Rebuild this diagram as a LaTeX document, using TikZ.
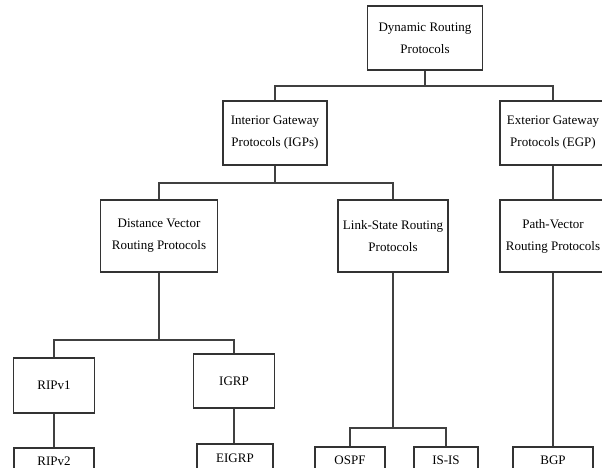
\documentclass[tikz,border=0pt]{standalone}
\usepackage{fontspec}
\setmainfont{Liberation Serif}
\usepackage{tikz}
\usetikzlibrary{positioning}
\tikzset{
  caja/.style={draw=black!80,line width=1.4pt,fill=white,align=center,inner sep=1pt,
    font=\fontsize{13}{22}\selectfont},
  rama/.style={draw=black!75,line width=1.3pt}
}

\begin{document}
\begin{tikzpicture}[x=1pt,y=-1pt]
\useasboundingbox (0,0) rectangle (602,468);
\clip (0,0) rectangle (602,468);
% nivel 1 y 2
\node[caja,minimum width=115pt,minimum height=64pt] (dyn) at (425,38) {Dynamic Routing\\Protocols};
\node[caja,minimum width=104pt,minimum height=64pt] (igp) at (275,133) {Interior Gateway\\Protocols (IGPs)};
\node[caja,minimum width=106pt,minimum height=64pt] (egp) at (553,133) {Exterior Gateway\\Protocols (EGP)};
% nivel 3
\node[caja,minimum width=117pt,minimum height=72pt] (dv) at (159,236) {Distance Vector\\Routing Protocols};
\node[caja,minimum width=110pt,minimum height=72pt] (ls) at (393,236) {Link-State Routing\\Protocols};
\node[caja,minimum width=106pt,minimum height=72pt] (pv) at (553,236) {Path-Vector\\Routing Protocols};
% hojas
\node[caja,minimum width=81pt,minimum height=55pt] (rip1) at (54,385.5) {RIPv1};
\node[caja,minimum width=81pt,minimum height=54pt] (igrp) at (234,381) {IGRP};
\node[caja,minimum width=80pt,minimum height=26pt] (rip2) at (54,461) {RIPv2};
\node[caja,minimum width=76pt,minimum height=28pt] (eigrp) at (235,458) {EIGRP};
\node[caja,minimum width=70pt,minimum height=26pt] (ospf) at (350,460) {OSPF};
\node[caja,minimum width=64pt,minimum height=26pt] (isis) at (446,460) {IS-IS};
\node[caja,minimum width=80pt,minimum height=26pt] (bgp) at (553,460) {BGP};
% uniones
\coordinate (j1) at (425,86);
\coordinate (j2) at (275,183);
\coordinate (j3) at (159,340);
\coordinate (j4) at (393,428);
\draw[rama] (dyn) -- (j1) -| (igp); \draw[rama] (j1) -| (egp);
\draw[rama] (igp) -- (j2) -| (dv); \draw[rama] (j2) -| (ls);
\draw[rama] (egp) -- (pv);
\draw[rama] (dv) -- (j3) -| (rip1); \draw[rama] (j3) -| (igrp);
\draw[rama] (rip1) -- (rip2); \draw[rama] (igrp) -- (igrp|-eigrp.north);
\draw[rama] (ls) -- (j4) -| (ospf); \draw[rama] (j4) -| (isis);
\draw[rama] (pv) -- (bgp);
\end{tikzpicture}
\end{document}
